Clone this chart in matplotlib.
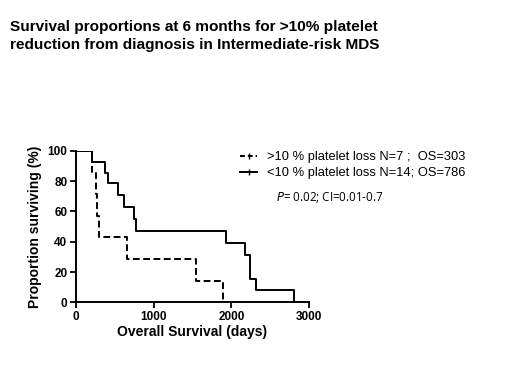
import matplotlib
matplotlib.use("Agg")
import matplotlib.pyplot as plt
from matplotlib.lines import Line2D

plt.rcParams['font.family'] = ['Liberation Sans', 'DejaVu Sans']

# >10% platelet loss (N=7)
t_high = [0, 214, 257, 272, 300, 660, 1550, 1888]
s_high = [100, 85.7, 71.4, 57.1, 42.9, 28.6, 14.3, 0]

# <10% platelet loss (N=14)
t_low = [0, 205, 372, 419, 548, 625, 753, 779, 1925, 2178, 2238, 2319, 2810]
s_low = [100, 92.9, 85.7, 78.6, 70.7, 62.9, 55.0, 47.1, 39.3, 31.4, 15.7, 7.9, 0]

labels = [">10 % platelet loss N=7 ;  OS=303", "<10 % platelet loss N=14; OS=786"]
xticks = [0, 1000, 2000, 3000]
yticks = [0, 20, 40, 60, 80, 100]

fig = plt.figure(figsize=(5.2, 3.9), dpi=100)
ax = fig.add_axes([0.1456, 0.2249, 0.449, 0.388])

ax.step(t_high, s_high, where='post', color='black', lw=1.4, ls=(0, (3.5, 1.8)))
ax.step(t_low, s_low, where='post', color='black', lw=1.4)

ax.set_xlim(0, 3000)
ax.set_ylim(0, 100)
ax.set_xticks(xticks)
ax.set_yticks(yticks)
for s in ['top', 'right']:
    ax.spines[s].set_visible(False)
for s in ['left', 'bottom']:
    ax.spines[s].set_linewidth(1.4)
ax.tick_params(direction='out', length=4, width=1.3, labelsize=8.5, pad=2)
for lab in ax.get_xticklabels() + ax.get_yticklabels():
    lab.set_fontweight('bold')
ax.set_xlabel('Overall Survival (days)', fontsize=10, fontweight='bold', labelpad=2)
ax.set_ylabel('Proportion surviving (%)', fontsize=10, fontweight='bold', labelpad=4)

handles = [Line2D([], [], color='black', lw=1.4, ls=(0, (2.5, 1.5)), marker='|', markersize=4),
           Line2D([], [], color='black', lw=1.4, marker='|', markersize=4)]
fig.legend(handles, labels, loc='upper left', bbox_to_anchor=(0.452, 0.625),
           frameon=False, fontsize=9.3, handlelength=1.3, handletextpad=0.8,
           labelspacing=0.3, borderaxespad=0)

fig.text(0.530, 0.493, r'$\it{P}$= 0.02; CI=0.01-0.7', fontsize=8.4,
         family=['Open Sans', 'DejaVu Sans'], va='center')

fig.text(0.02, 0.948, 'Survival proportions at 6 months for >10% platelet\n'
         'reduction from diagnosis in Intermediate-risk MDS',
         fontsize=11.1, fontweight='bold', va='top', ha='left', linespacing=1.3)

fig.savefig('out.png', dpi=100)
